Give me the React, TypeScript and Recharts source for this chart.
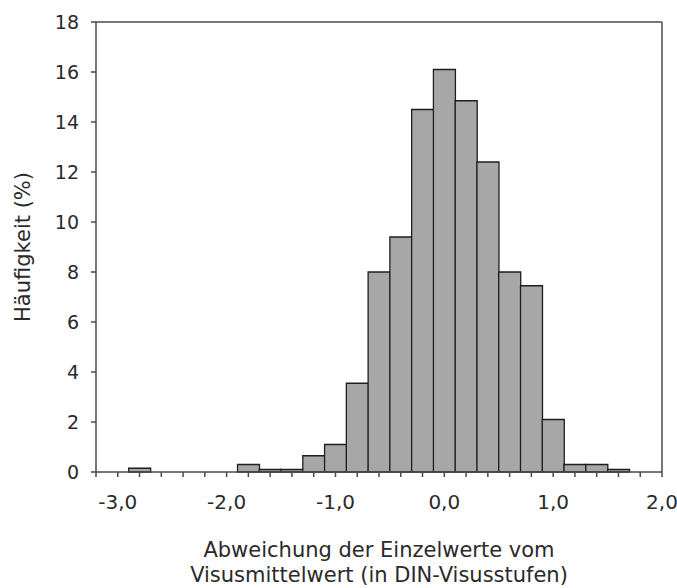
import { Bar, BarChart, Label, ReferenceLine, XAxis, YAxis } from 'recharts';

// Klassenmitten (DIN-Visusstufen) und Häufigkeiten in %
const binCenters = [
  -3.0, -2.8, -2.6, -2.4, -2.2, -2.0, -1.8, -1.6, -1.4, -1.2, -1.0, -0.8, -0.6, -0.4, -0.2,
  0.0, 0.2, 0.4, 0.6, 0.8, 1.0, 1.2, 1.4, 1.6, 1.8,
];
const frequencies = [
  0, 0.15, 0, 0, 0, 0, 0.3, 0.1, 0.1, 0.65, 1.1, 3.55, 8.0, 9.4, 14.5,
  16.1, 14.85, 12.4, 8.0, 7.45, 2.1, 0.3, 0.3, 0.1, 0,
];

const xTicks = [
  -3.2, -3.0, -2.8, -2.6, -2.4, -2.2, -2.0, -1.8, -1.6, -1.4, -1.2, -1.0, -0.8, -0.6, -0.4, -0.2,
  0.0, 0.2, 0.4, 0.6, 0.8, 1.0, 1.2, 1.4, 1.6, 1.8, 2.0,
];
const yTicks = [0, 2, 4, 6, 8, 10, 12, 14, 16, 18];

const xTitle = ['Abweichung der Einzelwerte vom', 'Visusmittelwert (in DIN-Visusstufen)'];
const yTitle = 'Häufigkeit (%)';

const data = binCenters.map((x, i) => ({ x, value: frequencies[i] }));

const FONT = '"DejaVu Sans", sans-serif';
const TEXT = '#2a2a2a';
const AXIS = '#4a4a4a';

const formatX = (v: number) => (Math.abs(v - Math.round(v)) < 1e-6 ? v.toFixed(1).replace('.', ',') : '');

function XTitle(props: any) {
  const vb = props.viewBox || {};
  const cx = vb.x + vb.width / 2;
  return (
    <text x={cx} textAnchor="middle" fontFamily={FONT} fontSize={21} fill={TEXT}>
      <tspan x={cx} y={557}>{xTitle[0]}</tspan>
      <tspan x={cx} y={582}>{xTitle[1]}</tspan>
    </text>
  );
}

function YTitle(props: any) {
  const vb = props.viewBox || {};
  const cy = vb.y + vb.height / 2;
  return (
    <text
      x={23}
      y={cy}
      transform={`rotate(-90 23 ${cy})`}
      textAnchor="middle"
      dominantBaseline="central"
      fontFamily={FONT}
      fontSize={21}
      fill={TEXT}
    >
      {yTitle}
    </text>
  );
}

export default function App() {
  return (
    <div style={{ position: 'absolute', left: 0, top: 0, background: '#fff' }}>
      <BarChart
        width={677}
        height={588}
        data={data}
        margin={{ top: 22, right: 15, left: 0, bottom: 0 }}
        barCategoryGap={0}
        barGap={0}
      >
        <XAxis
          dataKey="x"
          type="number"
          domain={[-3.2, 2.0]}
          ticks={xTicks}
          interval={0}
          allowDataOverflow
          height={116}
          tickSize={5}
          tickMargin={18}
          tickFormatter={formatX}
          stroke={AXIS}
          strokeWidth={1.5}
          tick={{ fill: TEXT, fontSize: 20, fontFamily: FONT }}
        >
          <Label content={XTitle} />
        </XAxis>
        <YAxis
          type="number"
          domain={[0, 18]}
          ticks={yTicks}
          interval={0}
          width={96}
          tickSize={5}
          tickMargin={12}
          stroke={AXIS}
          strokeWidth={1.5}
          tick={{ fill: TEXT, fontSize: 19, fontFamily: FONT }}
        >
          <Label content={YTitle} />
        </YAxis>
        <ReferenceLine y={18} stroke={AXIS} strokeWidth={1.5} />
        <ReferenceLine x={2.0} stroke={AXIS} strokeWidth={1.5} />
        <Bar dataKey="value" fill="#a7a7a7" stroke="#1e1e1e" strokeWidth={1.3} isAnimationActive={false} />
      </BarChart>
    </div>
  );
}
